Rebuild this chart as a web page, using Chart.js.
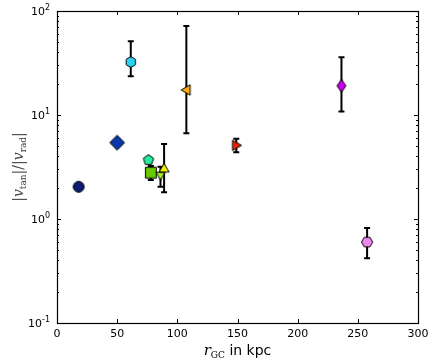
<!DOCTYPE html>
<html>
<head>
<meta charset="utf-8">
<script src="https://cdn.jsdelivr.net/npm/chart.js@4/dist/chart.umd.min.js"></script>
<style>
  html, body { margin: 0; padding: 0; background: #fff; }
  #wrap { width: 436px; height: 363px; }
</style>
</head>
<body>
<div id="wrap"><canvas id="myChart"></canvas></div>
<script>
// data
const rgc = [18, 50, 61.3, 76, 78, 86, 89, 107.5, 149, 236.4, 257.7];
const ratio = [2.04, 5.42, 32.3, 3.69, 2.79, 2.61, 3.07, 17.4, 5.11, 19.1, 0.6];
const errLow = [null, null, 23.6, null, 2.37, 2.04, 1.81, 6.67, 4.38, 10.8, 0.42];
const errHigh = [null, null, 51.1, null, 3.23, 3.18, 5.26, 71.8, 5.91, 35.9, 0.82];
const colors = ["#0b1a72", "#0a38a8", "#2cd2f2", "#22eea0", "#66cc00", "#a8ee33", "#f2f000", "#ffaa11", "#ee2200", "#cc00ee", "#ee88ee"];
const markers = ["circle", "diamond", "hexagon", "pentagon", "square", "tridown", "triup", "trileft", "triright", "thindiamond", "hexflat"];
const xTicks = [0, 50, 100, 150, 200, 250, 300];
const yTicks = [0.1, 1, 10, 100];
const yTickExp = ["-1", "0", "1", "2"];

// marker images
function polygon(ctx, n, r, rot) {
  ctx.beginPath();
  for (let i = 0; i < n; i++) {
    const a = rot + i * 2 * Math.PI / n;
    const px = r * Math.sin(a), py = -r * Math.cos(a);
    if (i === 0) ctx.moveTo(px, py); else ctx.lineTo(px, py);
  }
  ctx.closePath();
}

function makeMarker(kind, fill) {
  const c = document.createElement("canvas");
  c.width = 20; c.height = 20;
  const ctx = c.getContext("2d");
  ctx.translate(10, 10);
  if (kind === "circle") { ctx.beginPath(); ctx.arc(0, 0, 5.4, 0, 2 * Math.PI); }
  else if (kind === "diamond") polygon(ctx, 4, 7.4, 0);
  else if (kind === "hexagon") polygon(ctx, 6, 5.4, 0);
  else if (kind === "hexflat") polygon(ctx, 6, 5.6, Math.PI / 6);
  else if (kind === "pentagon") polygon(ctx, 5, 5.4, 0);
  else if (kind === "square") { ctx.beginPath(); ctx.rect(-5.4, -5.4, 10.8, 10.8); }
  else if (kind === "triup") { ctx.translate(0, 0.8); polygon(ctx, 3, 5.8, 0); }
  else if (kind === "tridown") { ctx.translate(0, -0.8); polygon(ctx, 3, 5.2, Math.PI); }
  else if (kind === "trileft") { ctx.translate(0.8, 0); polygon(ctx, 3, 6, -Math.PI / 2); }
  else if (kind === "triright") { ctx.translate(-0.8, 0); polygon(ctx, 3, 6, Math.PI / 2); }
  else if (kind === "thindiamond") {
    ctx.beginPath();
    ctx.moveTo(0, -6.6); ctx.lineTo(4.4, 0); ctx.lineTo(0, 6.6); ctx.lineTo(-4.4, 0); ctx.closePath();
  }
  ctx.fillStyle = fill;
  ctx.fill();
  ctx.lineWidth = 1;
  ctx.strokeStyle = "#000";
  ctx.stroke();
  return c;
}

const points = rgc.map((x, i) => ({ x: x, y: ratio[i] }));
const pointImages = markers.map((m, i) => makeMarker(m, colors[i]));

function drawRich(ctx, parts, x, y, align) {
  let w = 0;
  parts.forEach(p => { ctx.font = p.font; w += ctx.measureText(p.t).width; });
  let cx = align === "right" ? x - w : x - w / 2;
  parts.forEach(p => {
    ctx.font = p.font;
    ctx.fillText(p.t, cx, y + (p.dy || 0));
    cx += ctx.measureText(p.t).width;
  });
}

const errorBars = {
  id: "errorBars",
  beforeDatasetsDraw(chart) {
    const { ctx, scales: { x, y } } = chart;
    ctx.save();
    ctx.strokeStyle = "#000";
    ctx.lineWidth = 2;
    rgc.forEach((v, i) => {
      if (errLow[i] == null) return;
      const px = x.getPixelForValue(v);
      const y1 = y.getPixelForValue(errLow[i]);
      const y2 = y.getPixelForValue(errHigh[i]);
      ctx.beginPath();
      ctx.moveTo(px, y1); ctx.lineTo(px, y2);
      ctx.moveTo(px - 3, y1); ctx.lineTo(px + 3, y1);
      ctx.moveTo(px - 3, y2); ctx.lineTo(px + 3, y2);
      ctx.stroke();
    });
    ctx.restore();
  }
};

const frame = {
  id: "frame",
  afterDraw(chart) {
    const { ctx, chartArea: a, scales: { x, y } } = chart;
    ctx.save();
    ctx.strokeStyle = "#000";
    ctx.lineWidth = 1;
    ctx.beginPath();
    xTicks.forEach(v => {
      const px = Math.round(x.getPixelForValue(v)) + 0.5;
      ctx.moveTo(px, a.bottom); ctx.lineTo(px, a.bottom - 4);
      ctx.moveTo(px, a.top); ctx.lineTo(px, a.top + 4);
    });
    for (let d = -1; d < 2; d++) {
      for (let m = 1; m < 10; m++) {
        const v = m * Math.pow(10, d);
        const py = Math.round(y.getPixelForValue(v)) + 0.5;
        const len = m === 1 ? 4 : 2;
        ctx.moveTo(a.left, py); ctx.lineTo(a.left + len, py);
        ctx.moveTo(a.right, py); ctx.lineTo(a.right - len, py);
      }
    }
    ctx.stroke();
    ctx.lineWidth = 1.2;
    ctx.strokeRect(a.left + 0.5, a.top + 0.5, a.right - a.left, a.bottom - a.top);

    // y tick labels as 10^n
    ctx.fillStyle = "#000";
    ctx.textBaseline = "alphabetic";
    yTicks.forEach((v, i) => {
      const py = y.getPixelForValue(v);
      drawRich(ctx, [
        { t: "10", font: "11px 'DejaVu Sans'" },
        { t: yTickExp[i], font: "8px 'DejaVu Sans'", dy: -5 }
      ], 50, py + 4, "right");
    });

    drawRich(ctx, [
      { t: "r", font: "italic 15px 'DejaVu Serif'" },
      { t: "GC", font: "9px 'DejaVu Serif'", dy: 3 },
      { t: " in kpc", font: "14px 'DejaVu Sans'" }
    ], (a.left + a.right) / 2, 355);

    ctx.translate(19, (a.top + a.bottom) / 2);
    ctx.rotate(-Math.PI / 2);
    ctx.fillStyle = "#444";
    drawRich(ctx, [
      { t: "|", font: "14px 'DejaVu Serif'" },
      { t: "v", font: "italic 14px 'DejaVu Serif'" },
      { t: "tan", font: "9px 'DejaVu Serif'", dy: 3 },
      { t: "|/|", font: "14px 'DejaVu Serif'" },
      { t: "v", font: "italic 14px 'DejaVu Serif'" },
      { t: "rad", font: "9px 'DejaVu Serif'", dy: 3 },
      { t: "|", font: "14px 'DejaVu Serif'" }
    ], 0, 4);
    ctx.restore();
  }
};

const ctx = document.getElementById("myChart");
const chart = new Chart(ctx, {
  type: "scatter",
  data: {
    datasets: [
      {
        data: points,
        pointStyle: pointImages,
        pointRadius: 6,
        pointHoverRadius: 6,
      },
    ],
  },
  options: {
    responsive: true,
    maintainAspectRatio: false,
    animation: false,
    events: [],
    layout: { padding: { top: 11, right: 18, left: 0, bottom: 0 } },
    plugins: { legend: { display: false }, tooltip: { enabled: false } },
    scales: {
      x: {
        type: "linear",
        min: 0,
        max: 300,
        afterBuildTicks: (axis) => { axis.ticks = xTicks.map(v => ({ value: v })); },
        afterFit: (axis) => { axis.height = 40; },
        grid: { display: false, drawTicks: false },
        border: { display: false },
        ticks: { padding: 5, color: "#000", font: { family: "DejaVu Sans", size: 11 }, maxRotation: 0 },
      },
      y: {
        type: "logarithmic",
        min: 0.1,
        max: 100,
        afterBuildTicks: (axis) => { axis.ticks = yTicks.map(v => ({ value: v })); },
        afterFit: (axis) => { axis.width = 57; },
        grid: { display: false, drawTicks: false },
        border: { display: false },
        ticks: { display: false },
      },
    },
  },
  plugins: [errorBars, frame],
});
</script>
</body>
</html>
